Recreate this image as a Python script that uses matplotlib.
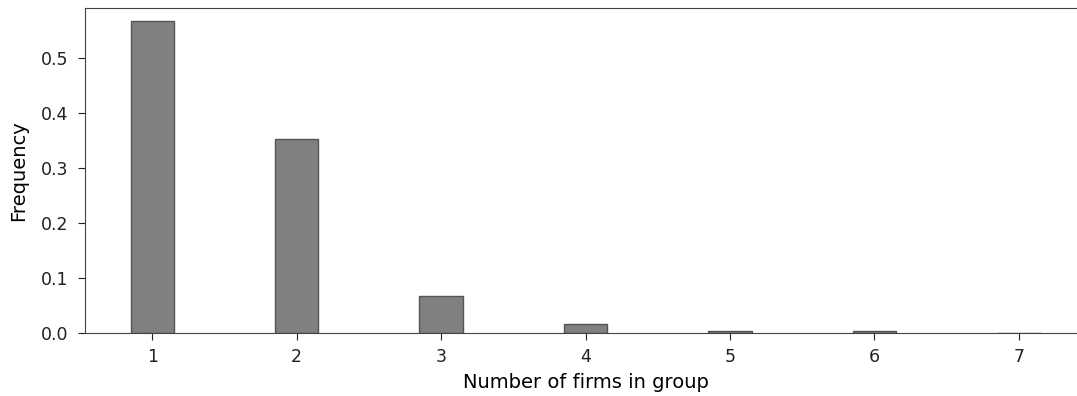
import matplotlib
matplotlib.use("Agg")
import matplotlib.pyplot as plt

# share of groups by number of member firms
group_sizes = [1, 2, 3, 4, 5, 6, 7]
frequency = [0.567, 0.353, 0.067, 0.016, 0.003, 0.003, 0.0004]

plt.rcParams['font.size'] = 12.5

fig = plt.figure(figsize=(10.77, 3.96), dpi=100)
ax = fig.add_axes([85 / 1077, 63 / 396, 1001 / 1077, 325 / 396])

ax.bar(group_sizes, frequency, width=0.3, color='gray', edgecolor='#555555', linewidth=1)
ax.set_xlim(0.535, 7.465)
ax.set_ylim(0, 0.591)
ax.set_xticks(group_sizes)
ax.set_yticks([0.0, 0.1, 0.2, 0.3, 0.4, 0.5])
ax.set_xlabel("Number of firms in group", fontsize=14, labelpad=5)
ax.set_ylabel("Frequency", fontsize=14, labelpad=9)

for side in ax.spines.values():
    side.set_color('#444444')
ax.tick_params(colors='#222222', length=5, pad=6)
ax.tick_params(axis='y', pad=7)

fig.savefig("out.png", dpi=100)
